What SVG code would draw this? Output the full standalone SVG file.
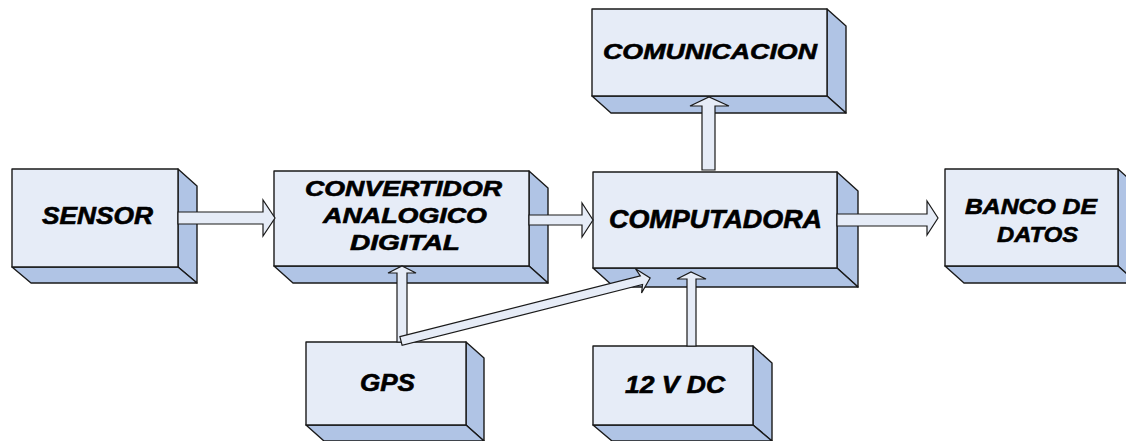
<svg xmlns="http://www.w3.org/2000/svg" width="1126" height="441" viewBox="0 0 1126 441">
<style>
.face{fill:#E6ECF7;stroke:#1a1a1a;stroke-width:1.4;stroke-linejoin:round}
.side{fill:#B0C4E5;stroke:#1a1a1a;stroke-width:1.4;stroke-linejoin:round}
.arr{fill:#E6ECF7;stroke:#1a1a1a;stroke-width:1.2;stroke-linejoin:miter}
text{font-family:"Liberation Sans",Arial,sans-serif;font-weight:bold;font-style:italic;fill:#000;stroke:#000;stroke-width:0.6}
</style>
<rect width="1126" height="441" fill="#fff"/>
<g id="sensor">
<polygon class="side" points="178,169 197,186 197,283 178,267"/>
<polygon class="side" points="12,267 178,267 197,283 31,283"/>
<rect class="face" x="12" y="169" width="166" height="98"/>
<text x="42" y="223.5" font-size="23" textLength="111" lengthAdjust="spacingAndGlyphs">SENSOR</text>
</g>
<g id="convertidor">
<polygon class="side" points="529,171 548,188 548,283 529,266"/>
<polygon class="side" points="274,266 529,266 548,283 293,283"/>
<rect class="face" x="274" y="171" width="255" height="95"/>
<text x="305" y="196" font-size="21.5" textLength="197" lengthAdjust="spacingAndGlyphs">CONVERTIDOR</text>
<text x="323" y="222.5" font-size="21.5" textLength="164" lengthAdjust="spacingAndGlyphs">ANALOGICO</text>
<text x="350" y="250" font-size="21.5" textLength="110" lengthAdjust="spacingAndGlyphs">DIGITAL</text>
</g>
<g id="computadora">
<polygon class="side" points="837,172 858,191 858,287 837,268"/>
<polygon class="side" points="593,268 837,268 858,287 614,287"/>
<rect class="face" x="593" y="172" width="244" height="96"/>
<text x="609" y="227.5" font-size="25" textLength="213" lengthAdjust="spacingAndGlyphs">COMPUTADORA</text>
</g>
<g id="comunicacion">
<polygon class="side" points="827,9 846,26 846,113 827,96"/>
<polygon class="side" points="592,96 827,96 846,113 611,113"/>
<rect class="face" x="592" y="9" width="235" height="87"/>
<text x="603" y="58.5" font-size="22.5" textLength="214" lengthAdjust="spacingAndGlyphs">COMUNICACION</text>
</g>
<g id="banco">
<polygon class="side" points="1118,169 1137,186 1137,283 1118,266"/>
<polygon class="side" points="945,266 1118,266 1137,283 964,283"/>
<rect class="face" x="945" y="169" width="173" height="97"/>
<text x="965" y="213.5" font-size="22" textLength="132" lengthAdjust="spacingAndGlyphs">BANCO DE</text>
<text x="997" y="242" font-size="22" textLength="81" lengthAdjust="spacingAndGlyphs">DATOS</text>
</g>
<g id="gps">
<polygon class="side" points="466,342 484,358 484,441 466,425"/>
<polygon class="side" points="306,425 466,425 484,441 324,441"/>
<rect class="face" x="306" y="342" width="160" height="83"/>
<text x="360" y="390.5" font-size="23" textLength="55" lengthAdjust="spacingAndGlyphs">GPS</text>
</g>
<g id="dc12v">
<polygon class="side" points="753,346 772,363 772,441 753,425"/>
<polygon class="side" points="593,425 753,425 772,441 612,441"/>
<rect class="face" x="593" y="346" width="160" height="79"/>
<text x="625" y="393" font-size="23" textLength="100" lengthAdjust="spacingAndGlyphs">12 V DC</text>
</g>
<g id="connectors">
<polygon class="arr" points="178,212 263,212 263,200 275,218 263,236 263,224 178,224"/>
<polygon class="arr" points="529,215 582,215 582,203 593,220 582,237 582,225 529,225"/>
<polygon class="arr" points="837,214 927,214 927,201 938,218 927,235 927,226 837,226"/>
<polygon class="arr" points="702,170 702,106 690,106 709,97 729,106 715,106 715,170"/>
<polygon class="arr" points="397,342 397,273 388,273 402,266 416,273 407,273 407,342"/>
<polygon class="arr" points="687,346 687,279 677,279 691,272 706,279 696,279 696,346"/>
<polygon class="arr" transform="translate(401,341) rotate(-14.2)" points="0,-4.5 248,-4.5 245,-12.5 257,0 245,12.5 248,4.5 0,4.5"/>
</g>
</svg>
